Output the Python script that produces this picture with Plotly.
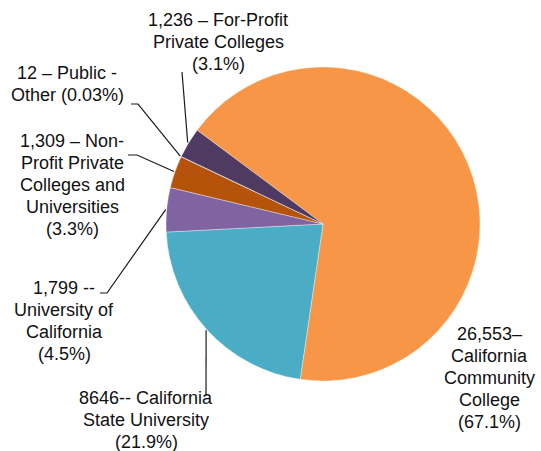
import math
import plotly.graph_objects as go

# ---- data ----
categories = [
    "California Community College",
    "California State University",
    "University of California",
    "Non-Profit Private Colleges and Universities",
    "Public - Other",
    "For-Profit Private Colleges",
]
enrollment = [26553, 8646, 1799, 1309, 12, 1236]
label_texts = [
    "26,553–<br>California<br>Community<br>College<br>(67.1%)",
    "8646-- California<br>State University<br>(21.9%)",
    "1,799 --<br>University of<br>California<br>(4.5%)",
    "1,309 – Non-<br>Profit Private<br>Colleges and<br>Universities<br>(3.3%)",
    "12 – Public -<br>Other (0.03%)",
    "1,236 – For-Profit<br>Private Colleges<br>(3.1%)",
]
colors = ["#F79646", "#4BACC6", "#8064A2", "#B45309", "#7F7F7F", "#4F3B62"]

# ---- layout constants (pixels) ----
W, H = 541, 451
CX, CY, R = 323, 224, 157
ROTATION = -53.3
LINE_GAP = 22
FONT_SIZE = 18

# label centre positions (px) and leader-line elbows (px, from text side)
label_pos = [(489, 378), (146, 420), (64, 321), (72, 185), (67, 84), (218, 42)]
leader_start = [None, [(206, 396)], [(100, 293), (107, 293)], [(128, 155), (137, 155)],
                [(131, 104), (138, 104)], [(182, 72)]]


def px(x, y):
    return x / W, 1 - y / H


fig = go.Figure(go.Pie(
    labels=categories,
    values=enrollment,
    sort=False,
    direction="clockwise",
    rotation=ROTATION,
    marker=dict(colors=colors, line=dict(color="rgba(255,255,255,0.6)", width=0.6)),
    textinfo="none",
    hoverinfo="label+value+percent",
    domain=dict(x=[(CX - R) / W, (CX + R) / W], y=[1 - (CY + R) / H, 1 - (CY - R) / H]),
    showlegend=False,
))

total = sum(enrollment)
cum = 0
shapes = []
annotations = []
for i, v in enumerate(enrollment):
    mid = ROTATION + 360 * (cum + v / 2) / total
    cum += v
    a = math.radians(mid)
    ex, ey = CX + (R + 1) * math.sin(a), CY - (R + 1) * math.cos(a)
    lx, ly = label_pos[i]
    lines = label_texts[i].split("<br>")
    n = len(lines)
    for k, line in enumerate(lines):
        yy = ly + (k - (n - 1) / 2) * LINE_GAP
        annotations.append(dict(
            x=lx / W, y=1 - yy / H, xref="paper", yref="paper",
            text=line, showarrow=False, align="center",
            xanchor="center", yanchor="middle",
            font=dict(family="Liberation Sans, Arial, sans-serif", size=FONT_SIZE, color="#111111"),
        ))
    if leader_start[i]:
        pts = leader_start[i] + [(ex, ey)]
        path = "M " + " L ".join("%.5f %.5f" % px(x, y) for x, y in pts)
        shapes.append(dict(type="path", path=path, xref="paper", yref="paper",
                           line=dict(color="#1a1a1a", width=1.2)))

fig.update_layout(
    width=W, height=H,
    margin=dict(l=0, r=0, t=0, b=0),
    paper_bgcolor="white",
    plot_bgcolor="white",
    annotations=annotations,
    shapes=shapes,
)

fig.write_html("out.html", config={"displayModeBar": False},
               post_script="document.body.style.margin='0';")
